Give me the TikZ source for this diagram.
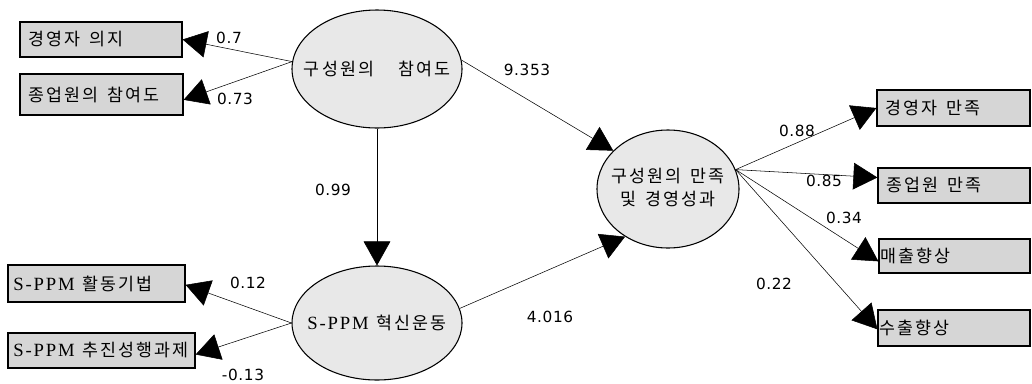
\documentclass[tikz,border=0pt]{standalone}
\usepackage{fontspec}
\setmainfont{Noto Sans CJK KR}
\newfontfamily\kr[LetterSpace=12]{Noto Sans CJK KR}
\newfontfamily\lat[LetterSpace=10]{Liberation Serif}
\newfontfamily\num[LetterSpace=4]{DejaVu Sans}
\usetikzlibrary{arrows.meta,shapes.geometric}
\tikzset{
  boxnode/.style={draw=black, line width=0.9pt, fill=gray!32, rectangle, inner xsep=6pt, inner ysep=0pt,
    align=left, font=\kr\fontsize{13}{14}\selectfont, anchor=center},
  ell/.style={draw=black, line width=0.8pt, fill=gray!18, ellipse, inner sep=0pt},
  arr/.style={line width=0.4pt, -{Triangle[length=18pt,width=20pt]}},
  lbl/.style={font=\num\fontsize{11.5}{12}\selectfont, inner sep=0pt}
}
\newcommand{\wsp}{\hspace{7pt}}
\newcommand{\sppm}{{\lat\fontsize{14}{14}\selectfont S-PPM}\hspace{6pt}}
\begin{document}
\begin{tikzpicture}[x=0.75pt, y=-0.75pt]
\useasboundingbox (0,0) rectangle (1032,383);
% boxes
\node[boxnode, text width=109.5pt, minimum height=26.25pt] (b1) at (101,39.5) {경영자\wsp 의지};
\node[boxnode, text width=110.25pt, minimum height=30.75pt] (b2) at (101.5,94.5) {종업원의\wsp 참여도};
\node[boxnode, minimum height=27.75pt, inner xsep=4pt, text width=124.75pt] (b3) at (96.5,283.5) {\sppm 활동기법};
\node[boxnode, text width=132.25pt, minimum height=26.25pt, inner xsep=4pt] (b4) at (101.5,350.5) {\sppm 추진성행과제};
\node[boxnode, text width=102.75pt, minimum height=27pt] (b5) at (953.5,108) {경영자\wsp 만족};
\node[boxnode, text width=102pt, minimum height=26.25pt] (b6) at (954,185.5) {종업원\wsp 만족};
\node[boxnode, minimum height=25.5pt, inner xsep=1pt, text width=111.25pt] (b7) at (954.5,256) {매출향상};
\node[boxnode, minimum height=27pt, inner xsep=1pt, text width=112pt] (b8) at (954,328) {수출향상};
% ellipses
\node[ell, minimum width=127.5pt, minimum height=88.5pt,
  label={center:{\kr\fontsize{13}{14}\selectfont 구성원의\hspace{18pt}참여도}}] (e1) at (377,69) {};
\node[ell, minimum width=127.5pt, minimum height=85.5pt,
  label={center:{\kr\fontsize{13}{14}\selectfont \sppm 혁신운동}}] (e2) at (377,323) {};
\node[ell, minimum width=106.5pt, minimum height=88.5pt,
  label={center:{\begin{tabular}{@{}c@{}}\kr\fontsize{13}{14}\selectfont 구성원의\wsp 만족\\[3pt]\kr\fontsize{13}{14}\selectfont 및\wsp 경영성과\end{tabular}}}] (e3) at (668,189) {};
% connectors
\draw[arr] (e1.175) -- (b1.east);
\draw[arr] (e1.175) -- ([yshift=-4pt]b2.east);
\draw[arr] (e1.6) -- (e3.145);
\draw[arr] (e1.south) -- (e2.north);
\draw[arr] (e2.180) -- ([yshift=-1pt]b3.east);
\draw[arr] (e2.180) -- ([yshift=-3pt]b4.east);
\draw[arr] (e2.10) -- (e3.228);
\draw[arr] (e3.16) -- (b5.west);
\draw[arr] (e3.16) -- ([yshift=6pt]b6.west);
\draw[arr] (e3.16) -- ([yshift=-4pt]b7.west);
\draw[arr] (e3.16) -- ([yshift=-1pt]b8.west);
% labels
\node[lbl] (l1) at (229,38) {0.7};
\node[lbl] (l2) at (235,99) {0.73};
\node[lbl] (l3) at (527,70) {9.353};
\node[lbl] (l4) at (333,190) {0.99};
\node[lbl] (l5) at (248,283) {0.12};
\node[lbl] (l6) at (243,375) {-0.13};
\node[lbl] (l7) at (550,317) {4.016};
\node[lbl] (l8) at (797,131) {0.88};
\node[lbl] (l9) at (824,181) {0.85};
\node[lbl] (l10) at (844,218) {0.34};
\node[lbl] (l11) at (774,284) {0.22};
\end{tikzpicture}
\end{document}
